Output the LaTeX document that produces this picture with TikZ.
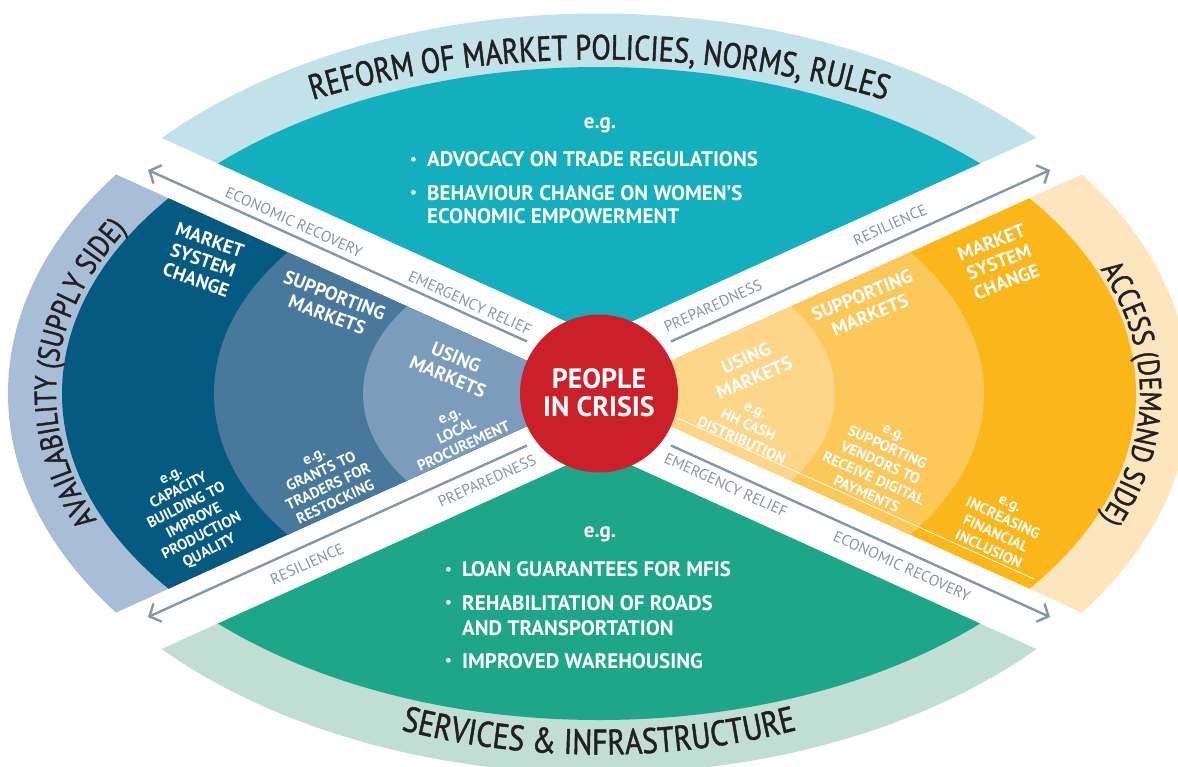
\documentclass[tikz,border=0pt]{standalone}
\usepackage{fontspec}
\setmainfont{PT Sans}
\newfontfamily\ringfont[FakeStretch=0.84,FakeBold=1.3]{PT Sans}
\newfontfamily\ringfontnarrow[FakeStretch=0.81,FakeBold=1.3]{PT Sans}
\usetikzlibrary{arrows.meta,decorations.text}

\definecolor{teal1}{HTML}{14AFBE}
\definecolor{tealring}{HTML}{C1E2E8}
\definecolor{green1}{HTML}{1DA687}
\definecolor{greenring}{HTML}{C0DED4}
\definecolor{blueA}{HTML}{045A81}
\definecolor{blueB}{HTML}{48789C}
\definecolor{blueC}{HTML}{7B9CBA}
\definecolor{bluering}{HTML}{A8BDD6}
\definecolor{yelA}{HTML}{FBB719}
\definecolor{yelB}{HTML}{FDC85A}
\definecolor{yelC}{HTML}{FDD689}
\definecolor{yelring}{HTML}{FDE6BE}
\definecolor{crisis}{HTML}{CB1F2A}
\definecolor{bandgray}{HTML}{8796A3}
\definecolor{ink}{HTML}{231F20}

\newcommand{\ringtxt}{\ringfontnarrow\fontsize{35pt}{35pt}\selectfont\color{ink}}
\newcommand{\bottomtxt}{\ringfont\fontsize{35.5pt}{35.5pt}\selectfont\color{ink}}
\newcommand{\sidetxt}{\ringfont\fontsize{30.5pt}{30.5pt}\selectfont\color{ink}}
\newcommand{\bul}{\makebox[17pt][l]{\fontsize{15pt}{15pt}\selectfont\raisebox{2.5pt}{•}}}

\begin{document}
\begin{tikzpicture}[x=1pt,y=-1pt,
  lbl/.style={text=white, font=\bfseries\fontsize{19pt}{21pt}\selectfont, align=center, inner sep=0pt},
  eg/.style={text=white, font=\bfseries\fontsize{15pt}{17pt}\selectfont, align=center, inner sep=0pt},
  band/.style={text=bandgray, font=\fontsize{15.5pt}{15.5pt}\selectfont, inner sep=0pt},
  flow/.style={draw=bandgray, line width=2.4pt, -{Straight Barb[length=9pt,width=20pt]}},
  bullet/.style={text=white, font=\bfseries\fontsize{21pt}{25pt}\selectfont, anchor=base west, inner sep=0pt},
  crisistxt/.style={text=white, font=\bfseries\fontsize{28pt}{28pt}\selectfont, anchor=base, inner sep=0pt}]
\useasboundingbox (0,0) rectangle (1178,766);
\coordinate (C) at (599,393.5);

% top quadrant: policies, norms, rules
\begin{scope}
  \clip (599,336.4) -- (-100,19.3) -- (-100,-100) -- (1300,-100) -- (1300,18.4) -- cycle;
  \fill[tealring] (C) ellipse[x radius=591pt, y radius=380pt];
  \fill[teal1] (C) ellipse[x radius=537pt, y radius=326.5pt];
\end{scope}
% bottom quadrant: services and infrastructure
\begin{scope}
  \clip (599,450.6) -- (-100,767.7) -- (-100,900) -- (1300,900) -- (1300,768.6) -- cycle;
  \fill[greenring] (C) ellipse[x radius=591pt, y radius=380pt];
  \fill[green1] (C) ellipse[x radius=537pt, y radius=326.5pt];
\end{scope}
% left quadrant: supply side
\begin{scope}
  \clip (C) -- (-100,76.4) -- (-100,710.6) -- cycle;
  \fill[bluering] (C) ellipse[x radius=591pt, y radius=380pt];
  \fill[blueA] (C) ellipse[x radius=537pt, y radius=326.5pt];
  \fill[blueB] (C) ellipse[x radius=385pt, y radius=240pt];
  \fill[blueC] (C) ellipse[x radius=236pt, y radius=150pt];
\end{scope}
% right quadrant: demand side
\begin{scope}
  \clip (C) -- (1300,75.5) -- (1300,711.5) -- cycle;
  \fill[yelring] (C) ellipse[x radius=591pt, y radius=380pt];
  \fill[yelA] (C) ellipse[x radius=537pt, y radius=326.5pt];
  \fill[yelB] (C) ellipse[x radius=385pt, y radius=240pt];
  \fill[yelC] (C) ellipse[x radius=236pt, y radius=150pt];
\end{scope}

% thin white rule under the demand-side examples
\coordinate (rS) at (675,417);
\coordinate (rE) at (1034,579);
\draw[white, line width=0.8pt] (rS) -- (rE);

% centre
\fill[crisis] (C) circle[radius=79pt];
\node[crisistxt] (people) at (599,388.3) {PEOPLE};
\node[crisistxt] (incrisis) at (599,416.7) {IN CRISIS};

% flow arrows along the white bands
\coordinate (ulA) at (527,341.5);  \coordinate (ulB) at (148,170);
\coordinate (urA) at (671,341.5);  \coordinate (urB) at (1050,170);
\coordinate (llA) at (527,445.5);  \coordinate (llB) at (148,617);
\coordinate (lrA) at (671,445.5);  \coordinate (lrB) at (1050,617);
\draw[flow] (ulA) -- (ulB);
\draw[flow] (urA) -- (urB);
\draw[flow] (llA) -- (llB);
\draw[flow] (lrA) -- (lrB);

\node[band, rotate=-24.4] (ul1) at (294,222) {ECONOMIC RECOVERY};
\node[band, rotate=-24.4] (ul2) at (470,303) {EMERGENCY RELIEF};
\node[band, rotate=24.4] (ur1) at (713,306) {PREPAREDNESS};
\node[band, rotate=24.4] (ur2) at (890,225) {RESILIENCE};
\node[band, rotate=24.4] (ll1) at (487,481) {PREPAREDNESS};
\node[band, rotate=24.4] (ll2) at (307,564) {RESILIENCE};
\node[band, rotate=-24.4] (lr1) at (726,485) {EMERGENCY RELIEF};
\node[band, rotate=-24.4] (lr2) at (902,566) {ECONOMIC RECOVERY};

% ring titles
\path[decorate, decoration={text along path, text align=center,
  text={|\ringtxt|REFORM OF MARKET POLICIES, NORMS, RULES}}]
  (C) ++(150:600pt and 334pt) arc[start angle=150, end angle=30, x radius=600pt, y radius=334pt];
\path[decorate, decoration={text along path, text align=center,
  text={|\bottomtxt|SERVICES {\&} INFRASTRUCTURE}}]
  (C) ++(210:545pt and 361pt) arc[start angle=210, end angle=330, x radius=545pt, y radius=361pt];
\path[decorate, decoration={text along path, text align=center,
  text={|\sidetxt|AVAILABILITY (SUPPLY SIDE)}}]
  (C) ++(216.8:543pt and 332pt) arc[start angle=216.8, end angle=136.8, x radius=543pt, y radius=332pt];
\path[decorate, decoration={text along path, text align=center,
  text={|\sidetxt|ACCESS (DEMAND SIDE)}}]
  (C) ++(40:541pt and 330pt) arc[start angle=40, end angle=-40, x radius=541pt, y radius=330pt];

% top examples
\node[bullet, anchor=base] (teg) at (600,128) {e.g.};
\node[bullet] (tb1) at (410,166.5) {\bul ADVOCACY ON TRADE REGULATIONS};
\node[bullet] (tb2) at (410,200) {\bul BEHAVIOUR CHANGE ON WOMEN'S};
\node[bullet] (tb3) at (427,223.5) {ECONOMIC EMPOWERMENT};

% bottom examples
\node[bullet, anchor=base] (beg) at (600,537) {e.g.};
\node[bullet] (bb1) at (445,576.7) {\bul LOAN GUARANTEES FOR MFIS};
\node[bullet] (bb2) at (445,610) {\bul REHABILITATION OF ROADS};
\node[bullet] (bb3) at (462,635) {AND TRANSPORTATION};
\node[bullet] (bb4) at (445,668) {\bul IMPROVED WAREHOUSING};

% supply side labels
\node[lbl, rotate=-19] (mscL) at (203,260) {MARKET\\SYSTEM\\CHANGE};
\node[lbl, rotate=-21] (supL) at (331,305) {SUPPORTING\\MARKETS};
\node[lbl, rotate=-23] (useL) at (452,367) {USING\\MARKETS};
\node[eg, rotate=25] (egUseL) at (457,432) {e.g.\\LOCAL\\PROCUREMENT};
\node[eg, rotate=25] (egSupL) at (325,480) {e.g.\\GRANTS TO\\TRADERS FOR\\RESTOCKING};
\node[eg, rotate=27] (egMscL) at (191,515) {e.g.\\CAPACITY\\BUILDING TO\\IMPROVE\\PRODUCTION\\QUALITY};

% demand side labels
\node[lbl, rotate=23] (useR) at (750,368) {USING\\MARKETS};
\node[lbl, rotate=22] (supR) at (866,305) {SUPPORTING\\MARKETS};
\node[lbl, rotate=21] (mscR) at (999,262) {MARKET\\SYSTEM\\CHANGE};
\node[eg, rotate=-24] (egUseR) at (748,426) {e.g.\\HH CASH\\DISTRIBUTION};
\node[eg, rotate=-24] (egSupR) at (880,464) {e.g.\\SUPPORTING\\VENDORS TO\\RECEIVE DIGITAL\\PAYMENTS};
\node[eg, rotate=-25] (egMscR) at (999,527) {e.g.\\INCREASING\\FINANCIAL\\INCLUSION};
\end{tikzpicture}
\end{document}
